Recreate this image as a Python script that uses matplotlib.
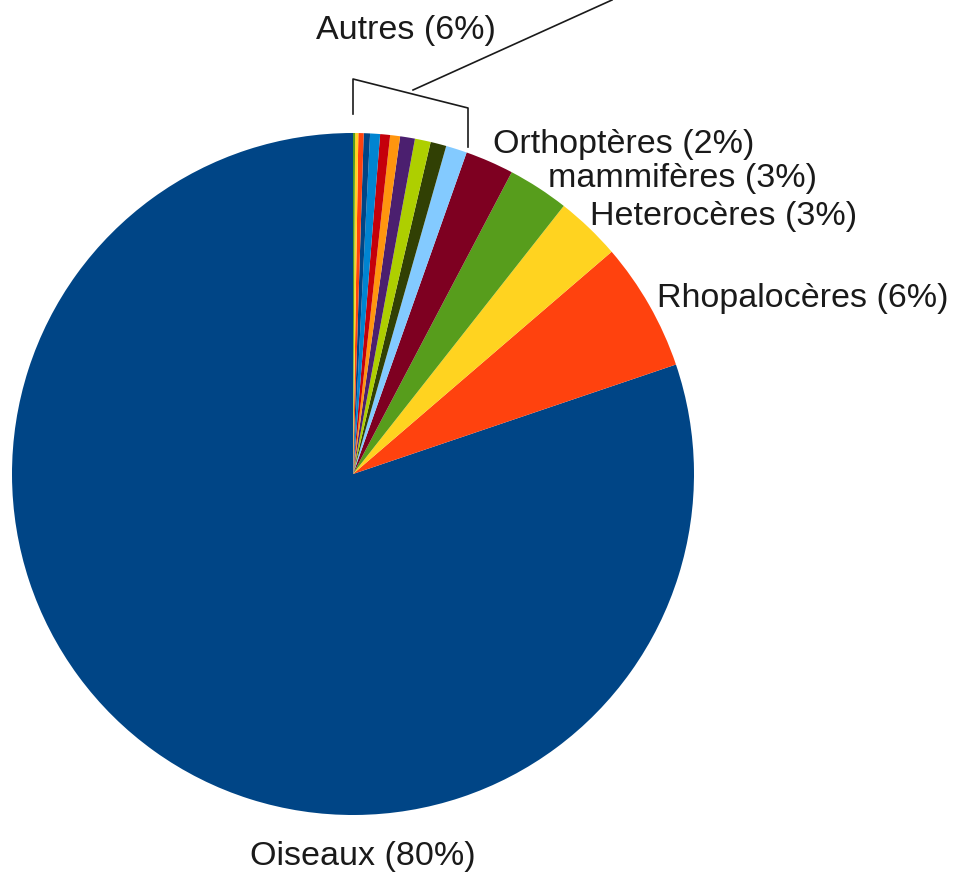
import matplotlib.pyplot as plt

# data (counter-clockwise from the top, as drawn)
categories = ['Oiseaux', 'Rhopalocères', 'Heterocères', 'mammifères', 'Orthoptères',
              'a1', 'a2', 'a3', 'a4', 'a5', 'a6', 'a7', 'a8', 'a9', 'a10', 'a11']
values = [80.25, 6.1, 3.1, 2.9, 2.3,
          1.0, 0.75, 0.75, 0.7, 0.47, 0.47, 0.47, 0.3, 0.25, 0.15, 0.1]
shown_pct = {'Oiseaux': 80, 'Rhopalocères': 6, 'Heterocères': 3,
             'mammifères': 3, 'Orthoptères': 2}
autres_pct = 6

colors = ['#004586', '#ff420e', '#ffd320', '#579d1c', '#7e0021', '#83caff',
          '#314004', '#aecf00', '#4b1f6f', '#ff950e', '#c5000b', '#0084d1',
          '#004586', '#ff420e', '#ffd320', '#579d1c']

W, H = 961, 876
fig = plt.figure(figsize=(W / 100, H / 100), dpi=100)
ax = fig.add_axes([0, 0, 1, 1])

cx, cy, r = 353, H - 474, 341
ax.pie(values, colors=colors, startangle=90, counterclock=True,
       center=(cx, cy), radius=r, frame=True,
       wedgeprops=dict(linewidth=0))
ax.set_xlim(0, W)
ax.set_ylim(0, H)
ax.set_aspect('equal')
ax.axis('off')

font = dict(family='Liberation Sans', fontsize=24.5, color='#1a1a1a')

# labels
ax.text(363, H - 857, f'Oiseaux ({shown_pct["Oiseaux"]}%)', ha='center', va='center', **font)
ax.text(657, H - 298, f'Rhopalocères ({shown_pct["Rhopalocères"]}%)', ha='left', va='center', **font)
ax.text(590, H - 217, f'Heterocères ({shown_pct["Heterocères"]}%)', ha='left', va='center', **font)
ax.text(548, H - 178, f'mammifères ({shown_pct["mammifères"]}%)', ha='left', va='center', **font)
ax.text(493, H - 145, f'Orthoptères ({shown_pct["Orthoptères"]}%)', ha='left', va='center', **font)
ax.text(406, H - 31, f'Autres ({autres_pct}%)', ha='center', va='center', **font)

# bracket around the small slices
lc = dict(color='#1a1a1a', linewidth=1.2)
ax.plot([353, 353, 468, 468], [H - 114, H - 79, H - 108, H - 147], **lc)
ax.plot([413, 612], [H - 90, H - 0], **lc)

fig.savefig('out.png', dpi=100)
